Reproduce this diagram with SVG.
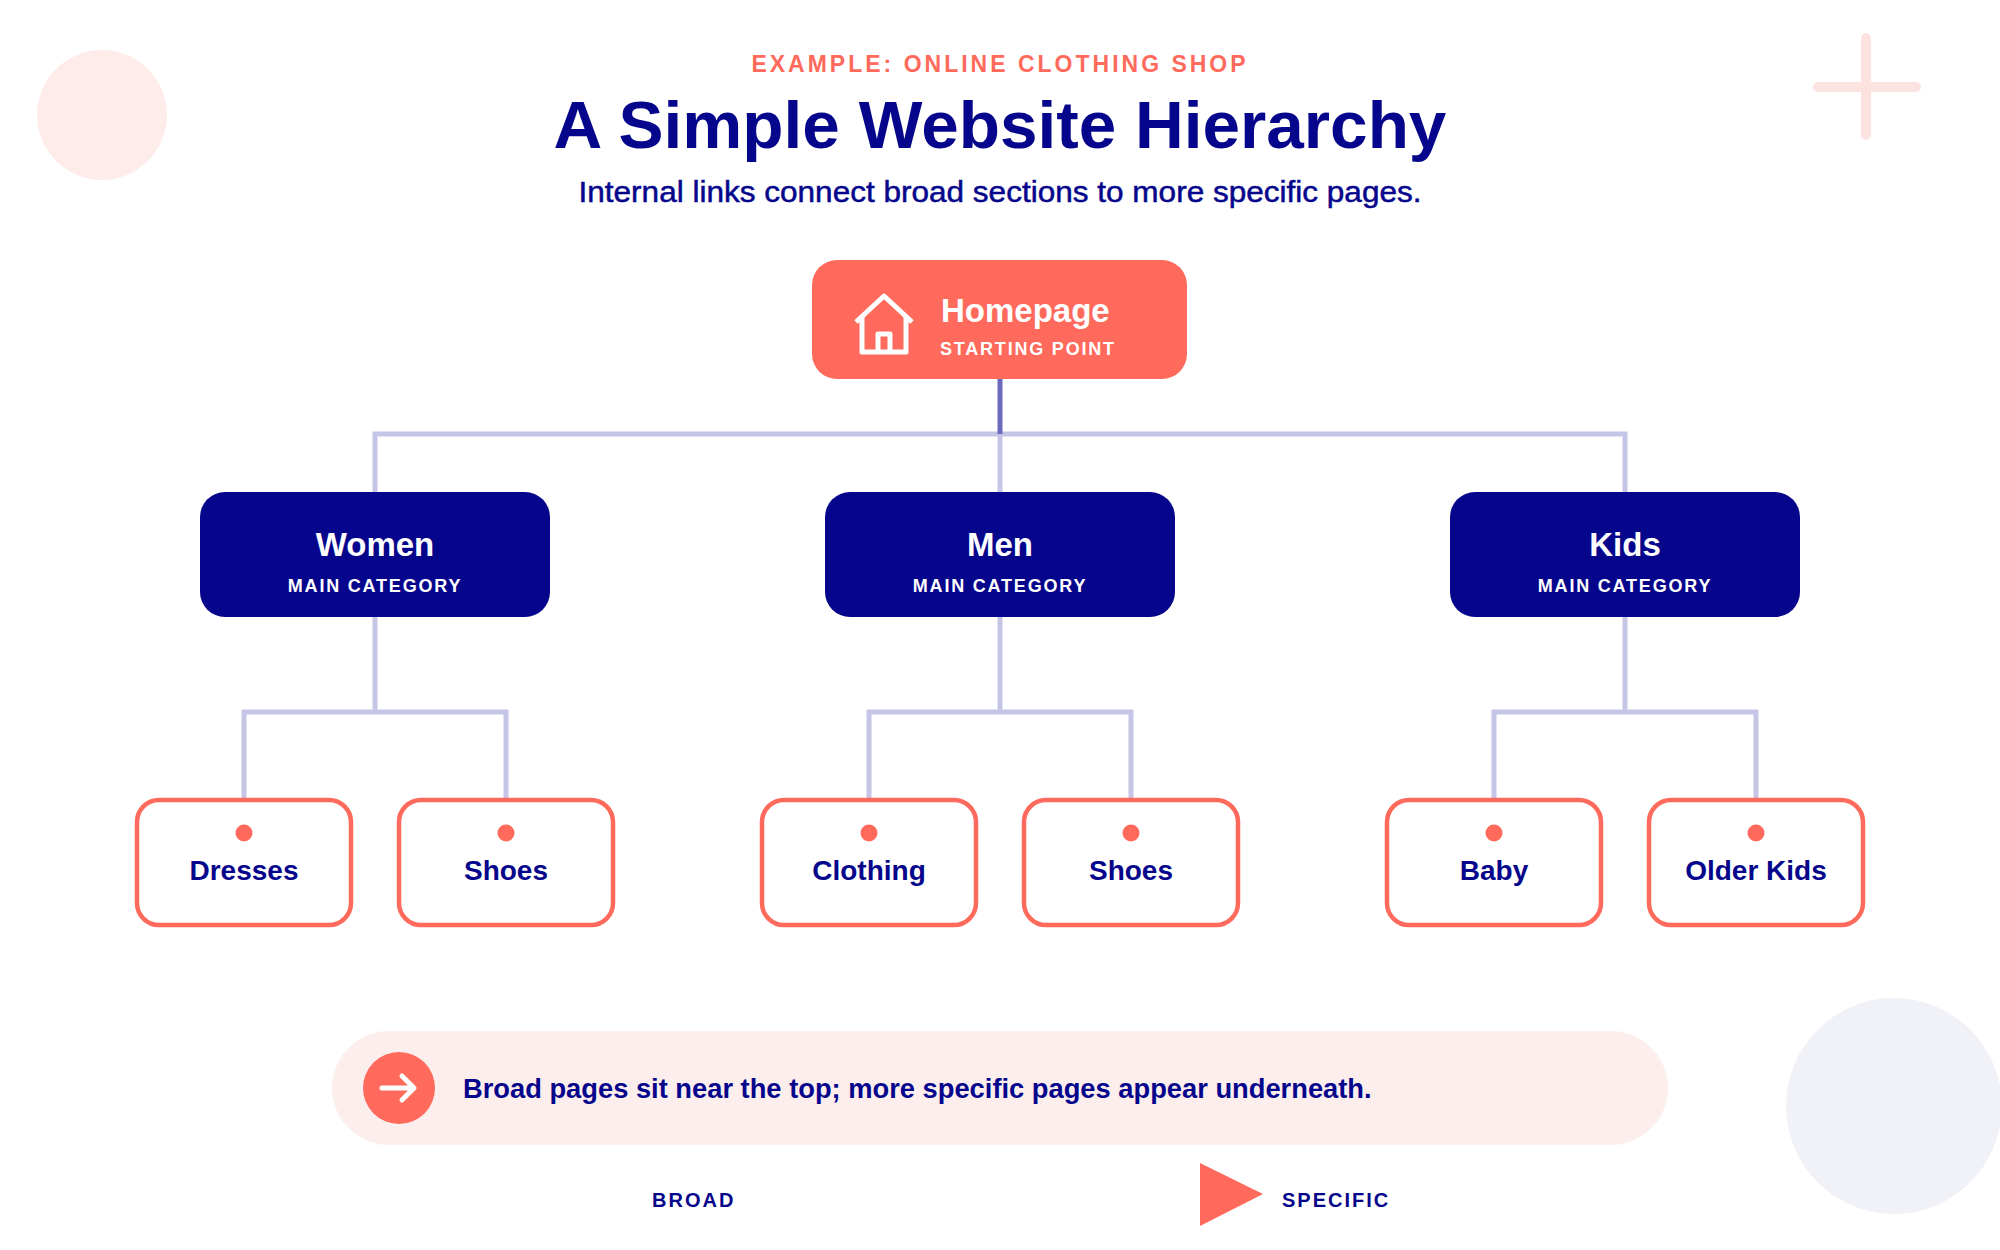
<svg xmlns="http://www.w3.org/2000/svg" width="2000" height="1250" viewBox="0 0 2000 1250">
<style>
text{font-family:"Liberation Sans",Arial,sans-serif;font-weight:bold}
.navy{fill:#06068c}
.main rect{fill:#06068c}
.leaf rect{fill:#fff;stroke:#ff6a5c;stroke-width:4.5}
.leaf circle{fill:#ff6a5c}
.lt{font-size:28px;fill:#06068c;text-anchor:middle}
.mt{font-size:33px;fill:#fff;text-anchor:middle}
.ms{font-size:18px;fill:#fff;text-anchor:middle;letter-spacing:1.8px}
.c{stroke:#c5c6e6;stroke-width:5;fill:none}
</style>
<rect width="2000" height="1250" fill="#fff"/>
<circle cx="102" cy="115" r="65" fill="#fdecea"/>
<path d="M1866 38V135M1818 87H1916" stroke="#fde3e0" stroke-width="10" stroke-linecap="round"/>
<circle cx="1894" cy="1106" r="108" fill="#f1f2f8"/>
<text x="1000" y="72" text-anchor="middle" font-size="23" fill="#ff6a5c" letter-spacing="3">EXAMPLE: ONLINE CLOTHING SHOP</text>
<text x="1000" y="148" text-anchor="middle" font-size="67.5" class="navy">A Simple Website Hierarchy</text>
<text x="1000" y="202" text-anchor="middle" font-size="29" class="navy" style="font-weight:normal;stroke:#06068c;stroke-width:0.5" textLength="843" lengthAdjust="spacingAndGlyphs">Internal links connect broad sections to more specific pages.</text>
<g id="connectors">
<path class="c" d="M375 492V434H1625V492M1000 434V492"/>
<path d="M1000 379V434" stroke="#6a6cbb" stroke-width="5"/>
<path class="c" d="M375 617V712M244 800V712H506V800"/>
<path class="c" d="M1000 617V712M869 800V712H1131V800"/>
<path class="c" d="M1625 617V712M1494 800V712H1756V800"/>
</g>
<g id="homepage">
<rect x="812" y="260" width="375" height="119" rx="25" fill="#ff6a5c"/>
<g fill="none" stroke="#fff" stroke-width="5" stroke-linejoin="round">
<path d="M856 322L884 296L912 322"/>
<path d="M862 316V352H906V316"/>
<path d="M878 352V334H890V352"/>
</g>
<text x="941" y="322" font-size="33" fill="#fff">Homepage</text>
<text x="940" y="355" font-size="18" fill="#fff" letter-spacing="1.8">STARTING POINT</text>
</g>
<g id="women" class="main"><rect x="200" y="492" width="350" height="125" rx="25"/><text class="mt" x="375" y="556">Women</text><text class="ms" x="375" y="592">MAIN CATEGORY</text></g>
<g id="men" class="main"><rect x="825" y="492" width="350" height="125" rx="25"/><text class="mt" x="1000" y="556">Men</text><text class="ms" x="1000" y="592">MAIN CATEGORY</text></g>
<g id="kids" class="main"><rect x="1450" y="492" width="350" height="125" rx="25"/><text class="mt" x="1625" y="556">Kids</text><text class="ms" x="1625" y="592">MAIN CATEGORY</text></g>
<g id="dresses" class="leaf"><rect x="137" y="800" width="214" height="125" rx="22"/><circle cx="244" cy="833" r="8.5"/><text class="lt" x="244" y="880">Dresses</text></g>
<g id="wshoes" class="leaf"><rect x="399" y="800" width="214" height="125" rx="22"/><circle cx="506" cy="833" r="8.5"/><text class="lt" x="506" y="880">Shoes</text></g>
<g id="clothing" class="leaf"><rect x="762" y="800" width="214" height="125" rx="22"/><circle cx="869" cy="833" r="8.5"/><text class="lt" x="869" y="880">Clothing</text></g>
<g id="mshoes" class="leaf"><rect x="1024" y="800" width="214" height="125" rx="22"/><circle cx="1131" cy="833" r="8.5"/><text class="lt" x="1131" y="880">Shoes</text></g>
<g id="baby" class="leaf"><rect x="1387" y="800" width="214" height="125" rx="22"/><circle cx="1494" cy="833" r="8.5"/><text class="lt" x="1494" y="880">Baby</text></g>
<g id="older" class="leaf"><rect x="1649" y="800" width="214" height="125" rx="22"/><circle cx="1756" cy="833" r="8.5"/><text class="lt" x="1756" y="880">Older Kids</text></g>
<g id="note">
<rect x="332" y="1031" width="1336" height="114" rx="57" fill="#fdeeee"/>
<circle cx="399" cy="1088" r="36" fill="#ff6a5c"/>
<path d="M382 1088H414M402 1076L414 1088L402 1100" fill="none" stroke="#fff" stroke-width="5" stroke-linecap="round" stroke-linejoin="round"/>
<text x="463" y="1098" font-size="27.3" class="navy">Broad pages sit near the top; more specific pages appear underneath.</text>
</g>
<g id="legend">
<text x="652" y="1207" font-size="20" class="navy" letter-spacing="2">BROAD</text>
<polygon points="1200,1163 1263,1194 1200,1226" fill="#ff6a5c"/>
<text x="1282" y="1207" font-size="20" class="navy" letter-spacing="2">SPECIFIC</text>
</g>
</svg>
